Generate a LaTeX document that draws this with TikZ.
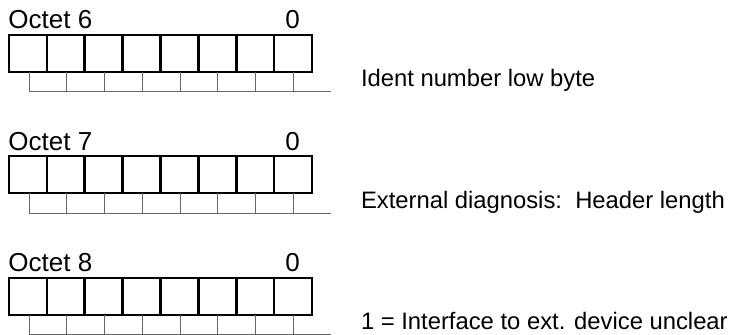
\documentclass[tikz,border=0pt]{standalone}
\usepackage{fontspec}
\setmainfont{Liberation Sans}
\begin{document}
\begin{tikzpicture}[x=0.5pt,y=-0.5pt,
  frame/.style={draw=black, line width=1pt},
  divider/.style={draw=black, line width=1.3pt},
  sub/.style={draw=black!60, line width=0.5pt},
  lbl/.style={font=\fontsize{11.9}{14}\selectfont, inner sep=0pt, outer sep=0pt},
  head/.style={font=\fontsize{13}{15}\selectfont, inner sep=0pt, outer sep=0pt}]
\useasboundingbox (0,0) rectangle (733,335);
\foreach \g/\txt [count=\i from 0] in {6/{Ident number low byte}, 7/{External diagnosis:\ \ Header length}, 8/{1 = Interface to ext. device unclear}} {
  \pgfmathsetmacro\oy{35+121.5*\i}
  % byte cells
  \draw[frame] (9,\oy) rectangle (312,\oy+37);
  \foreach \k in {1,...,7} {
    \draw[divider] ({9+37.875*\k},\oy) -- ({9+37.875*\k},\oy+37);
  }
  % sub row
  \foreach \k in {0,...,7} {
    \draw[sub] ({29+37.75*\k},\oy+37) -- ({29+37.75*\k},\oy+57);
  }
  \draw[sub] (29,\oy+57) -- (331,\oy+57);
  % labels
  \node[head, anchor=base west] (oct\g) at (8.5,\oy-6) {Octet \g};
  \node[head, anchor=base] (zero\g) at (292.5,\oy-6) {0};
  \node[lbl, anchor=base west] (desc\g) at (361,\oy+52) {\txt};
}
\end{tikzpicture}
\end{document}
